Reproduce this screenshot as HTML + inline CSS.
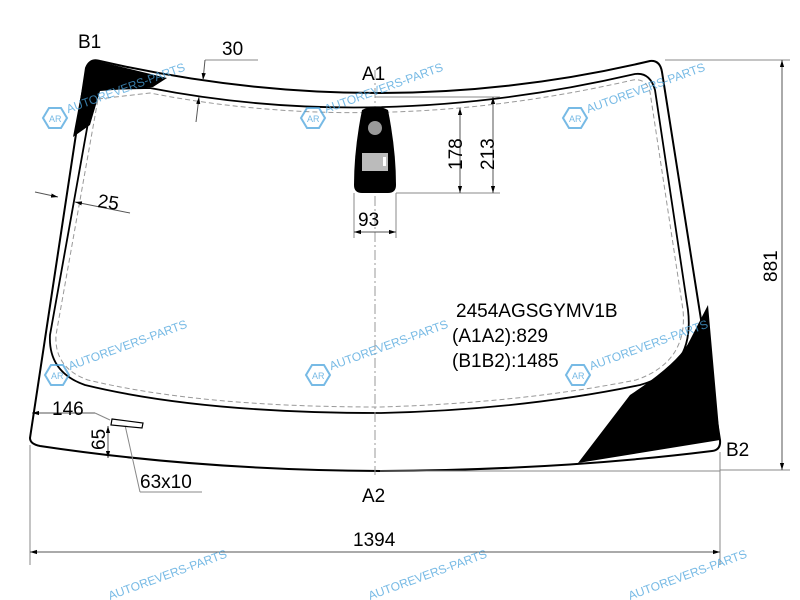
<!DOCTYPE html>
<html><head><style>body{margin:0;background:#fff}svg{display:block}text{font-family:"Liberation Sans",sans-serif}</style></head><body>
<svg width="800" height="600" viewBox="0 0 800 600" xmlns="http://www.w3.org/2000/svg">
<defs><marker id="a" viewBox="0 0 10 10" refX="10" refY="5" markerWidth="7" markerHeight="7" orient="auto-start-reverse"><path d="M0,2L10,5L0,8z" fill="#000"/></marker>
<g id="w"><path d="M-6,-10 L6,-10 L12,0 L6,10 L-6,10 L-12,0 Z" fill="none" stroke="#4aa3dc" stroke-width="2"/><text x="-6" y="4" font-size="9">AR</text><text x="14" y="0" font-size="12" transform="rotate(-20)">AUTOREVERS-PARTS</text></g></defs>
<g fill="#000">
<path d="M86,68 Q88,60 97,61 L167,78 L153,87 L100,91 L90,125 L73,137 Z"/>
<path d="M708,305 L720,440 L578,463 L630,395 Q680,362 690,340 Z"/>
</g>
<!-- outer -->
<path d="M86,68 Q90,58 100,61 Q380,125 650,61 Q660,60 662,72 L720,440 Q721,450 712,451 Q560,470 380,471 Q200,470 40,446 Q30,444 30,438 Z" fill="none" stroke="#000" stroke-width="2"/>
<!-- inner -->
<path d="M93,95 Q95,88 105,89 L150,88 Q380,133 635,74 Q650,72 655,90 L688,310 Q695,370 640,385 Q520,410 380,413 Q200,413 85,385 Q48,372 50,335 Z" fill="none" stroke="#000" stroke-width="1.8"/>
<path d="M98,99 L150,93 Q380,138 633,80 Q646,78 650,92 L683,310 Q688,362 636,380 Q520,403 380,407 Q200,407 88,380 Q54,368 56,335 Z" fill="none" stroke="#999" stroke-width="1" stroke-dasharray="5,3"/>
<line x1="375" y1="70" x2="375" y2="475" stroke="#999" stroke-dasharray="10,3,2,3"/>
<path d="M362,110 Q375,103 388,110 Q396,150 396,185 Q396,193 388,193 L362,193 Q354,193 354,185 Q354,150 362,110 Z" fill="#000"/>
<circle cx="375" cy="128" r="7" fill="#999"/>
<rect x="362" y="153" width="26" height="18" fill="#bbb"/>
<rect x="383" y="157" width="3" height="9" fill="#fff"/>
<g stroke="#888" stroke-width="1" fill="none">
<line x1="396" y1="193" x2="500" y2="193"/><line x1="375" y1="97" x2="500" y2="97"/>
<line x1="460" y1="108" x2="460" y2="193" marker-start="url(#a)" marker-end="url(#a)" stroke="#555"/>
<line x1="493" y1="97" x2="493" y2="193" marker-start="url(#a)" marker-end="url(#a)" stroke="#555"/>
<line x1="354" y1="193" x2="354" y2="238"/><line x1="396" y1="193" x2="396" y2="238"/>
<line x1="354" y1="232" x2="396" y2="232" marker-start="url(#a)" marker-end="url(#a)" stroke="#555"/>
<line x1="665" y1="60" x2="790" y2="60"/><line x1="720" y1="470" x2="790" y2="470"/><line x1="380" y1="471" x2="720" y2="471"/>
<line x1="782" y1="60" x2="782" y2="470" marker-start="url(#a)" marker-end="url(#a)" stroke="#555"/>
<line x1="30" y1="445" x2="30" y2="565"/><line x1="720" y1="452" x2="720" y2="565"/>
<line x1="30" y1="552" x2="720" y2="552" marker-start="url(#a)" marker-end="url(#a)" stroke="#555"/>
<line x1="205" y1="60" x2="258" y2="60"/><line x1="205" y1="60" x2="203" y2="80" marker-end="url(#a)" stroke="#555"/>
<line x1="196" y1="122" x2="199" y2="97" marker-end="url(#a)" stroke="#555"/>
<line x1="35" y1="192" x2="58" y2="197" marker-end="url(#a)" stroke="#555"/>
<line x1="130" y1="213" x2="75" y2="202" marker-end="url(#a)" stroke="#555"/>
<line x1="95" y1="413" x2="32" y2="413" marker-end="url(#a)" stroke="#555"/>
<line x1="95" y1="413" x2="110" y2="420"/>
<line x1="108" y1="426" x2="108" y2="458" marker-start="url(#a)" marker-end="url(#a)" stroke="#555"/>
<line x1="125" y1="425" x2="140" y2="492"/><line x1="140" y1="492" x2="202" y2="492"/>
</g>
<path d="M112,419 L143,423 L142,428 L111,425 Z" fill="#fff" stroke="#000" stroke-width="1.2"/>
<g font-size="19" fill="#000">
<text x="78" y="48">B1</text><text x="222" y="55">30</text><text x="362" y="80">A1</text>
<text x="97" y="207" transform="rotate(8 97 207)">25</text>
<text x="358" y="226">93</text>
<text x="0" y="0" transform="translate(462,170) rotate(-90)">178</text>
<text x="0" y="0" transform="translate(494,170) rotate(-90)">213</text>
<text x="0" y="0" transform="translate(777,282) rotate(-90)">881</text>
<text x="456" y="317">2454AGSGYMV1B</text><text x="452" y="342">(A1A2):829</text><text x="452" y="367">(B1B2):1485</text>
<text x="52" y="415">146</text>
<text x="0" y="0" transform="translate(105,450) rotate(-90)">65</text>
<text x="140" y="488">63x10</text><text x="362" y="502">A2</text><text x="726" y="456">B2</text>
<text x="353" y="546">1394</text>
</g>
<g fill="#4aa3dc" opacity="0.75">
<use href="#w" x="55" y="118"/><use href="#w" x="313" y="118"/><use href="#w" x="575" y="118"/>
<use href="#w" x="57" y="375"/><use href="#w" x="318" y="375"/><use href="#w" x="578" y="375"/>
<text x="110" y="600" font-size="12" transform="rotate(-20 110 600)">AUTOREVERS-PARTS</text>
<text x="370" y="600" font-size="12" transform="rotate(-20 370 600)">AUTOREVERS-PARTS</text>
<text x="630" y="600" font-size="12" transform="rotate(-20 630 600)">AUTOREVERS-PARTS</text>
</g>
</svg>
</body></html>
